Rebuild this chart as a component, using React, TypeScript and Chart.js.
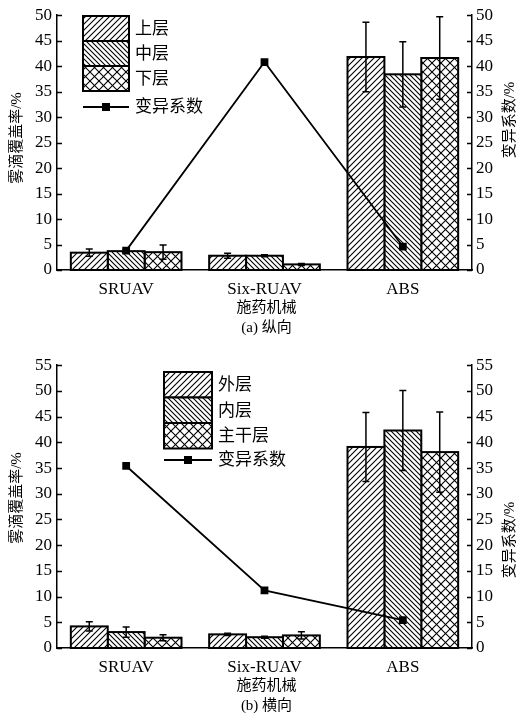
import React, { useEffect, useRef } from 'react';
import { Chart, registerables } from 'chart.js';

Chart.register(...registerables);

// ---------- data ----------
const categories = ['SRUAV', 'Six-RUAV', 'ABS'];

const topSeriesNames = ['上层', '中层', '下层'];
const topUpper = [3.4, 2.8, 41.8];
const topUpperErr = [0.7, 0.5, 6.8];
const topMiddle = [3.7, 2.8, 38.4];
const topMiddleErr = [0.4, 0.2, 6.4];
const topLower = [3.5, 1.1, 41.6];
const topLowerErr = [1.4, 0.2, 8.1];
const topCV = [3.8, 40.8, 4.6];
const topYMax = 50;

const botSeriesNames = ['外层', '内层', '主干层'];
const botOuter = [4.2, 2.65, 39.1];
const botOuterErr = [0.9, 0.2, 6.7];
const botInner = [3.1, 2.1, 42.3];
const botInnerErr = [1.0, 0.2, 7.8];
const botTrunk = [2.0, 2.45, 38.1];
const botTrunkErr = [0.6, 0.7, 7.8];
const botCV = [35.4, 11.2, 5.4];
const botYMax = 55;

const tickStep = 5;
const cvLabel = '变异系数';
const xTitle = '施药机械';
const leftTitle = '雾滴覆盖率/%';
const rightTitle = '变异系数/%';
const topCaption = '(a) 纵向';
const botCaption = '(b) 横向';

// ---------- styling ----------
const SERIF = '"Liberation Serif", "Times New Roman", "Noto Sans CJK SC", serif';
const CJK = '"Liberation Serif", "Noto Sans CJK SC", serif';

function makePattern(kind: string): CanvasPattern {
  const s = kind === 'cross' ? 9 : kind === 'fwd' ? 6 : 5;
  const c = document.createElement('canvas');
  c.width = s;
  c.height = s;
  const g = c.getContext('2d')!;
  g.fillStyle = '#fff';
  g.fillRect(0, 0, s, s);
  g.strokeStyle = '#000';
  g.lineWidth = 1.1;
  const fwd = () => {
    g.beginPath();
    g.moveTo(-1, s + 1); g.lineTo(s + 1, -1);
    g.moveTo(-1, 1); g.lineTo(1, -1);
    g.moveTo(s - 1, s + 1); g.lineTo(s + 1, s - 1);
    g.stroke();
  };
  const back = () => {
    g.beginPath();
    g.moveTo(-1, -1); g.lineTo(s + 1, s + 1);
    g.moveTo(s - 1, -1); g.lineTo(s + 1, 1);
    g.moveTo(-1, s - 1); g.lineTo(1, s + 1);
    g.stroke();
  };
  if (kind === 'fwd') fwd();
  else if (kind === 'back') back();
  else { fwd(); back(); }
  return g.createPattern(c, 'repeat')!;
}

function decorPlugin(p: any) {
  return {
    id: 'decor',
    afterDatasetDraw(chart: any, args: any) {
      const ds = chart.data.datasets[args.index];
      if (ds.type === 'line') return;
      const ctx = chart.ctx;
      const yScale = chart.scales[args.meta.yAxisID];
      ctx.save();
      ctx.strokeStyle = '#000';
      ctx.lineWidth = 2;
      args.meta.data.forEach((el: any, i: number) => {
        const { x, y, base, width } = el.getProps(['x', 'y', 'base', 'width'], true);
        ctx.strokeRect(x - width / 2, y, width, base - y);
        const e = ds.errors ? ds.errors[i] : 0;
        if (e) {
          const v = ds.data[i];
          const yt = yScale.getPixelForValue(v + e);
          const yb = yScale.getPixelForValue(v - e);
          ctx.lineWidth = 1.5;
          ctx.beginPath();
          ctx.moveTo(x, yt); ctx.lineTo(x, yb);
          ctx.moveTo(x - 3.5, yt); ctx.lineTo(x + 3.5, yt);
          ctx.moveTo(x - 3.5, yb); ctx.lineTo(x + 3.5, yb);
          ctx.stroke();
          ctx.lineWidth = 2;
        }
      });
      ctx.restore();
    },
    afterDraw(chart: any) {
      const ctx = chart.ctx;
      const ca = chart.chartArea;
      const ys = chart.scales.y;
      const y1 = chart.scales.y1;
      ctx.save();
      // inward ticks
      ctx.strokeStyle = '#000';
      ctx.lineWidth = 1.3;
      ctx.beginPath();
      ys.ticks.forEach((t: any) => {
        const py = Math.round(ys.getPixelForValue(t.value)) + 0.5;
        ctx.moveTo(ca.left, py); ctx.lineTo(ca.left + 5, py);
      });
      y1.ticks.forEach((t: any) => {
        const py = Math.round(y1.getPixelForValue(t.value)) + 0.5;
        ctx.moveTo(ca.right - 5, py); ctx.lineTo(ca.right, py);
      });
      ctx.stroke();

      // legend
      const L = p.legend;
      const dsets = chart.data.datasets;
      ctx.font = `17px ${CJK}`;
      ctx.textBaseline = 'middle';
      ctx.textAlign = 'left';
      let k = 0;
      dsets.forEach((ds: any) => {
        if (ds.type === 'line') return;
        const by = L.y + k * L.h;
        ctx.fillStyle = ds.backgroundColor;
        ctx.fillRect(L.x, by, L.w, L.h);
        ctx.lineWidth = 2;
        ctx.strokeStyle = '#000';
        ctx.strokeRect(L.x, by, L.w, L.h);
        ctx.fillStyle = '#000';
        ctx.fillText(ds.label, L.textX, by + L.h / 2 + 1);
        k++;
      });
      const lineDs = dsets.find((d: any) => d.type === 'line');
      if (lineDs) {
        ctx.strokeStyle = '#000';
        ctx.lineWidth = 2;
        ctx.beginPath();
        ctx.moveTo(L.x, L.lineY); ctx.lineTo(L.x + L.w, L.lineY);
        ctx.stroke();
        ctx.fillStyle = '#000';
        ctx.fillRect(L.x + L.w / 2 - 4, L.lineY - 4, 8, 8);
        ctx.fillText(lineDs.label, L.textX, L.lineY + 1);
      }

      // axis titles
      ctx.fillStyle = '#000';
      ctx.textAlign = 'center';
      ctx.textBaseline = 'middle';
      ctx.font = `15px ${CJK}`;
      const cx = (ca.left + ca.right) / 2 + 2;
      ctx.fillText(xTitle, cx, ca.bottom + 38);
      ctx.fillText(p.caption, cx, ca.bottom + 58);

      ctx.save();
      ctx.translate(17, p.leftTitleY);
      ctx.rotate(-Math.PI / 2);
      ctx.fillText(leftTitle, 0, 0);
      ctx.restore();

      ctx.save();
      ctx.translate(510, p.rightTitleY);
      ctx.rotate(-Math.PI / 2);
      ctx.fillText(rightTitle, 0, 0);
      ctx.restore();

      ctx.restore();
    },
  };
}

function makeConfig(p: any) {
  const kinds = ['fwd', 'back', 'cross'];
  const tickFont = { family: SERIF, size: 17 };
  return {
    type: 'bar',
    data: {
      labels: categories,
      datasets: [
        ...p.series.map((s: any, i: number) => ({
          type: 'bar',
          label: s.name,
          data: s.values,
          errors: s.errors,
          backgroundColor: makePattern(kinds[i]),
          borderWidth: 0,
          yAxisID: 'y',
          order: 1,
          categoryPercentage: 0.8,
          barPercentage: 1,
        })),
        {
          type: 'line',
          label: cvLabel,
          data: p.cv,
          yAxisID: 'y1',
          order: 0,
          borderColor: '#000',
          borderWidth: 1.8,
          pointStyle: 'rect',
          pointRadius: 5.5,
          pointBackgroundColor: '#000',
          pointBorderColor: '#000',
          pointBorderWidth: 0,
          tension: 0,
          fill: false,
        },
      ],
    },
    options: {
      responsive: false,
      animation: false,
      events: [],
      layout: { padding: { top: p.padTop, left: 0, right: 0, bottom: 0 } },
      plugins: { legend: { display: false }, tooltip: { enabled: false } },
      scales: {
        x: {
          grid: { display: false, drawTicks: false },
          border: { display: true, color: '#000', width: 1.5 },
          ticks: { color: '#000', font: tickFont, padding: 9 },
          afterFit: (s: any) => { s.height = p.xAxisH; },
        },
        y: {
          position: 'left',
          min: 0,
          max: p.yMax,
          ticks: { stepSize: tickStep, color: '#000', font: tickFont, padding: 5, autoSkip: false },
          grid: { display: false, drawTicks: false },
          border: { display: true, color: '#000', width: 1.5 },
          afterFit: (s: any) => { s.width = 57; },
        },
        y1: {
          position: 'right',
          min: 0,
          max: p.yMax,
          ticks: { stepSize: tickStep, color: '#000', font: tickFont, padding: 4, autoSkip: false },
          grid: { display: false, drawTicks: false },
          border: { display: true, color: '#000', width: 1.5 },
          afterFit: (s: any) => { s.width = 48; },
        },
      },
    },
    plugins: [decorPlugin(p)],
  };
}

function ChartPanel({ w, h, spec }: { w: number; h: number; spec: any }) {
  const ref = useRef<HTMLCanvasElement>(null);
  useEffect(() => {
    if (!ref.current) return;
    const chart = new Chart(ref.current, makeConfig(spec) as any);
    return () => chart.destroy();
  }, []);
  return <canvas ref={ref} width={w} height={h} style={{ display: 'block', width: w, height: h }} />;
}

const topSpec = {
  series: [
    { name: topSeriesNames[0], values: topUpper, errors: topUpperErr },
    { name: topSeriesNames[1], values: topMiddle, errors: topMiddleErr },
    { name: topSeriesNames[2], values: topLower, errors: topLowerErr },
  ],
  cv: topCV,
  yMax: topYMax,
  padTop: 15,
  xAxisH: 80,
  caption: topCaption,
  leftTitleY: 138,
  rightTitleY: 120,
  legend: { x: 83, y: 16, w: 46, h: 25, lineY: 107, textX: 135 },
};

const botSpec = {
  series: [
    { name: botSeriesNames[0], values: botOuter, errors: botOuterErr },
    { name: botSeriesNames[1], values: botInner, errors: botInnerErr },
    { name: botSeriesNames[2], values: botTrunk, errors: botTrunkErr },
  ],
  cv: botCV,
  yMax: botYMax,
  padTop: 15,
  xAxisH: 75,
  caption: botCaption,
  leftTitleY: 148,
  rightTitleY: 190,
  legend: { x: 164, y: 22, w: 48, h: 25.5, lineY: 110, textX: 218 },
};

export default function App() {
  return (
    <div style={{ position: 'absolute', left: 0, top: 0, width: 520, height: 723, background: '#fff' }}>
      <ChartPanel w={520} h={350} spec={topSpec} />
      <ChartPanel w={520} h={373} spec={botSpec} />
    </div>
  );
}
